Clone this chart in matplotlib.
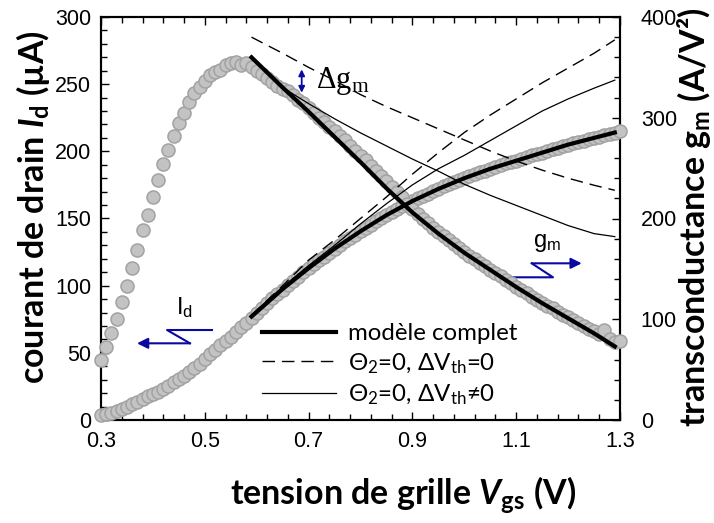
import numpy as np
import matplotlib
matplotlib.use('Agg')
import matplotlib.pyplot as plt
from matplotlib.ticker import MultipleLocator, FormatStrFormatter
from matplotlib.lines import Line2D

plt.rcParams['font.family'] = ['Liberation Sans', 'DejaVu Sans']
plt.rcParams['mathtext.fontset'] = 'custom'
plt.rcParams['mathtext.rm'] = 'Lato'
plt.rcParams['mathtext.it'] = 'Lato:italic:bold'
plt.rcParams['mathtext.bf'] = 'Lato:bold'
plt.rcParams['mathtext.fallback'] = 'stixsans'

# ---- measured data (grey circles), Vgs in V ----
vgs = [0.30, 0.31, 0.32, 0.33, 0.34, 0.35, 0.36, 0.37, 0.38, 0.39,
       0.40, 0.41, 0.42, 0.43, 0.44, 0.45, 0.46, 0.47, 0.48, 0.49,
       0.50, 0.51, 0.52, 0.53, 0.54, 0.55, 0.56, 0.57, 0.58, 0.59,
       0.60, 0.61, 0.62, 0.63, 0.64, 0.65, 0.66, 0.67, 0.68, 0.69,
       0.70, 0.71, 0.72, 0.73, 0.74, 0.75, 0.76, 0.77, 0.78, 0.79,
       0.80, 0.81, 0.82, 0.83, 0.84, 0.85, 0.86, 0.87, 0.88, 0.89,
       0.90, 0.91, 0.92, 0.93, 0.94, 0.95, 0.96, 0.97, 0.98, 0.99,
       1.00, 1.01, 1.02, 1.03, 1.04, 1.05, 1.06, 1.07, 1.08, 1.09,
       1.10, 1.11, 1.12, 1.13, 1.14, 1.15, 1.16, 1.17, 1.18, 1.19,
       1.20, 1.21, 1.22, 1.23, 1.24, 1.25, 1.26, 1.27, 1.28, 1.29, 1.30]

id_meas = [3.5, 4.5, 5.5, 7, 8.5, 10, 12, 13.5, 15.5, 17.5,
           19, 21, 23, 25.5, 28, 30.5, 33, 36, 39, 42,
           45.5, 49, 52, 55.5, 59, 62, 65.5, 69, 72.5, 76,
           80, 83.5, 87, 90.5, 94, 97, 100.5, 103.5, 106.5, 110,
           113, 116, 119, 121.5, 124.5, 127.5, 130, 133, 135.5, 138,
           140.5, 143, 145.5, 148, 150, 152.5, 154.5, 157, 159, 161,
           163, 165, 167, 168.5, 170.5, 172, 174, 175.5, 177, 178.5,
           180, 181.5, 183, 184.5, 185.5, 187, 188.5, 189.5, 191, 192,
           193, 194.5, 195.5, 197, 198, 199, 200.5, 201.5, 202.5, 204,
           205, 206, 207, 208, 209, 210, 211, 212, 213, 214, 215]

gm_meas = [60, 72, 86, 100, 117, 133, 151, 169, 189, 203,
           221, 238, 254, 268, 282, 295, 305, 316, 325, 331,
           336, 342, 345, 347, 352, 354, 355, 352, 354, 350,
           346, 343, 339, 335, 332, 329, 327, 323, 318, 315,
           310, 305, 300, 296, 291, 287, 282, 278, 272, 267,
           262, 258, 252, 247, 242, 237, 231, 226, 221, 214,
           209, 204, 200, 196, 191, 187, 183, 179, 175, 171,
           167, 163, 160, 156, 153, 149, 146, 143, 139, 136,
           132, 129, 126, 122, 119, 116, 113, 111, 107, 104,
           102, 99, 96, 93, 90, 88, 85, 89, 80, 77, 78]

# ---- model curves ----
vgs_mod = [0.59, 0.65, 0.70, 0.75, 0.80, 0.85, 0.90, 0.95, 1.00, 1.05, 1.10, 1.15, 1.20, 1.25, 1.29]
id_full = [77, 97.5, 113, 127.5, 140.5, 152.5, 163, 172, 180, 187, 193, 199, 205, 210, 214]
gm_full = [360, 330, 306, 281, 256, 230, 206, 185, 166, 149, 132, 116, 101, 86, 73]
id_th0 = [78, 100, 119, 134, 150, 166, 183, 199, 214, 227, 239, 251, 262, 273, 283]
gm_th0 = [380, 364, 350, 337, 323, 311, 300, 289, 278, 267, 257, 248, 240, 233, 228]
id_thn = [78, 99, 115, 130, 146, 161, 175, 187, 197, 208, 219, 230, 239, 247, 253]
gm_thn = [359, 330, 314, 299, 285, 272, 259, 247, 234, 223, 213, 203, 193, 185, 182]

# ========== figure ==========
fig = plt.figure(figsize=(7.14, 5.23), dpi=100)
ax = fig.add_axes([101/714, 1 - 420/523, 519/714, 403/523])
ax2 = ax.twinx()
ax.set_zorder(ax2.get_zorder() + 1)
ax.patch.set_visible(False)

ax.set_xlim(0.3, 1.3)
ax.set_ylim(0, 300)
ax2.set_ylim(0, 400)

grey = dict(marker='o', ls='none', ms=9.4, mfc='#c3c3c3', mec='#a2a2a2', mew=1.1,
            clip_on=False, zorder=3)
ax.plot(vgs, id_meas, **grey)
ax.plot(vgs, gm_meas, transform=ax2.transData, **grey)

dash = (0, (9, 5))
ax.plot(vgs_mod, id_th0, color='k', lw=1.0, ls=dash, zorder=4)
ax.plot(vgs_mod, gm_th0, color='k', lw=1.0, ls=dash, zorder=4, transform=ax2.transData)
ax.plot(vgs_mod, id_thn, color='k', lw=0.9, zorder=4)
ax.plot(vgs_mod, gm_thn, color='k', lw=0.9, zorder=4, transform=ax2.transData)
ax.plot(vgs_mod, id_full, color='k', lw=3.0, zorder=5)
ax.plot(vgs_mod, gm_full, color='k', lw=3.0, zorder=5, transform=ax2.transData)

# ---- axes styling ----
for a in (ax, ax2):
    for s in a.spines.values():
        s.set_linewidth(1.5)
ax.xaxis.set_major_locator(MultipleLocator(0.2, offset=0.1))
ax.xaxis.set_minor_locator(MultipleLocator(0.04, offset=0.02))
ax.xaxis.set_major_formatter(FormatStrFormatter('%.1f'))
ax.yaxis.set_major_locator(MultipleLocator(50))
ax.yaxis.set_minor_locator(MultipleLocator(10))
ax2.yaxis.set_major_locator(MultipleLocator(100))
ax2.yaxis.set_minor_locator(MultipleLocator(20))
ax.tick_params(which='both', direction='in', top=True, right=False, width=1.0,
               labelsize=15.5)
ax.tick_params(which='major', length=6)
ax.tick_params(which='minor', length=4)
ax.tick_params(axis='x', pad=8)
ax.tick_params(axis='y', pad=7)
ax2.tick_params(which='both', direction='in', width=1.0, labelsize=15.5, pad=15)
ax2.tick_params(which='major', length=6)
ax2.tick_params(which='minor', length=4)

lab = dict(family='Lato', weight='bold', size=24.5)
ax.set_xlabel(r'tension de grille $\mathit{V}_\mathregular{gs}$ (V)', **lab)
ax.set_ylabel(r'courant de drain $\mathit{I}_\mathregular{d}$ (µA)', **lab)
ax2.set_ylabel(r'transconductance g$_\mathregular{m}$ (A/V²)', **lab)
ax.xaxis.set_label_coords(0.581, -0.135)
ax.yaxis.set_label_coords(-0.094, 0.528)
ax2.yaxis.set_label_coords(1.106, 0.504)

# ---- legend ----
handles = [Line2D([], [], color='k', lw=3.0),
           Line2D([], [], color='k', lw=1.0, ls=dash),
           Line2D([], [], color='k', lw=0.9)]
labels = ['modèle complet',
          r'Θ$_\mathregular{2}$=0, ΔV$_\mathregular{th}$=0',
          r'Θ$_\mathregular{2}$=0, ΔV$_\mathregular{th}$≠0']
leg = ax.legend(handles, labels, loc='upper left', bbox_to_anchor=(0.31, 0.24),
                frameon=False, borderpad=0, borderaxespad=0, handlelength=3.1,
                handletextpad=0.5, labelspacing=0.28,
                prop=dict(family='Lato', size=17.3))

# ---- annotations ----
blue = '#0a0aa0'
ax.text(0.414, 0.824, r'Δg$_\mathregular{m}$', transform=ax.transAxes,
        family='Liberation Serif', size=22, va='baseline', ha='left')
ax.annotate('', xy=(0.3867, 0.870), xytext=(0.3867, 0.812), xycoords='axes fraction',
            arrowprops=dict(arrowstyle='<|-|>', color=blue, lw=1.3,
                            mutation_scale=9, shrinkA=0, shrinkB=0))

ax.text(0.160, 0.278, r'I$_\mathregular{d}$', transform=ax.transAxes,
        size=17, ha='center', va='center')
ax.plot([0.2139, 0.1272, 0.1715], [0.2233, 0.2233, 0.1903], color=blue, lw=1.5,
        transform=ax.transAxes, clip_on=False)
ax.annotate('', xy=(0.0694, 0.1903), xytext=(0.1715, 0.1903), xycoords='axes fraction',
            arrowprops=dict(arrowstyle='-|>', color=blue, lw=1.5,
                            mutation_scale=16, shrinkA=0, shrinkB=0))

ax.text(0.859, 0.439, r'g$_\mathregular{m}$', transform=ax.transAxes,
        size=17, ha='center', va='center')
ax.plot([0.7913, 0.8709, 0.8299], [0.3541, 0.3541, 0.3888], color=blue, lw=1.5,
        transform=ax.transAxes, clip_on=False)
ax.annotate('', xy=(0.9262, 0.3888), xytext=(0.8299, 0.3888), xycoords='axes fraction',
            arrowprops=dict(arrowstyle='-|>', color=blue, lw=1.5,
                            mutation_scale=16, shrinkA=0, shrinkB=0))

fig.savefig('out.png', dpi=100)
